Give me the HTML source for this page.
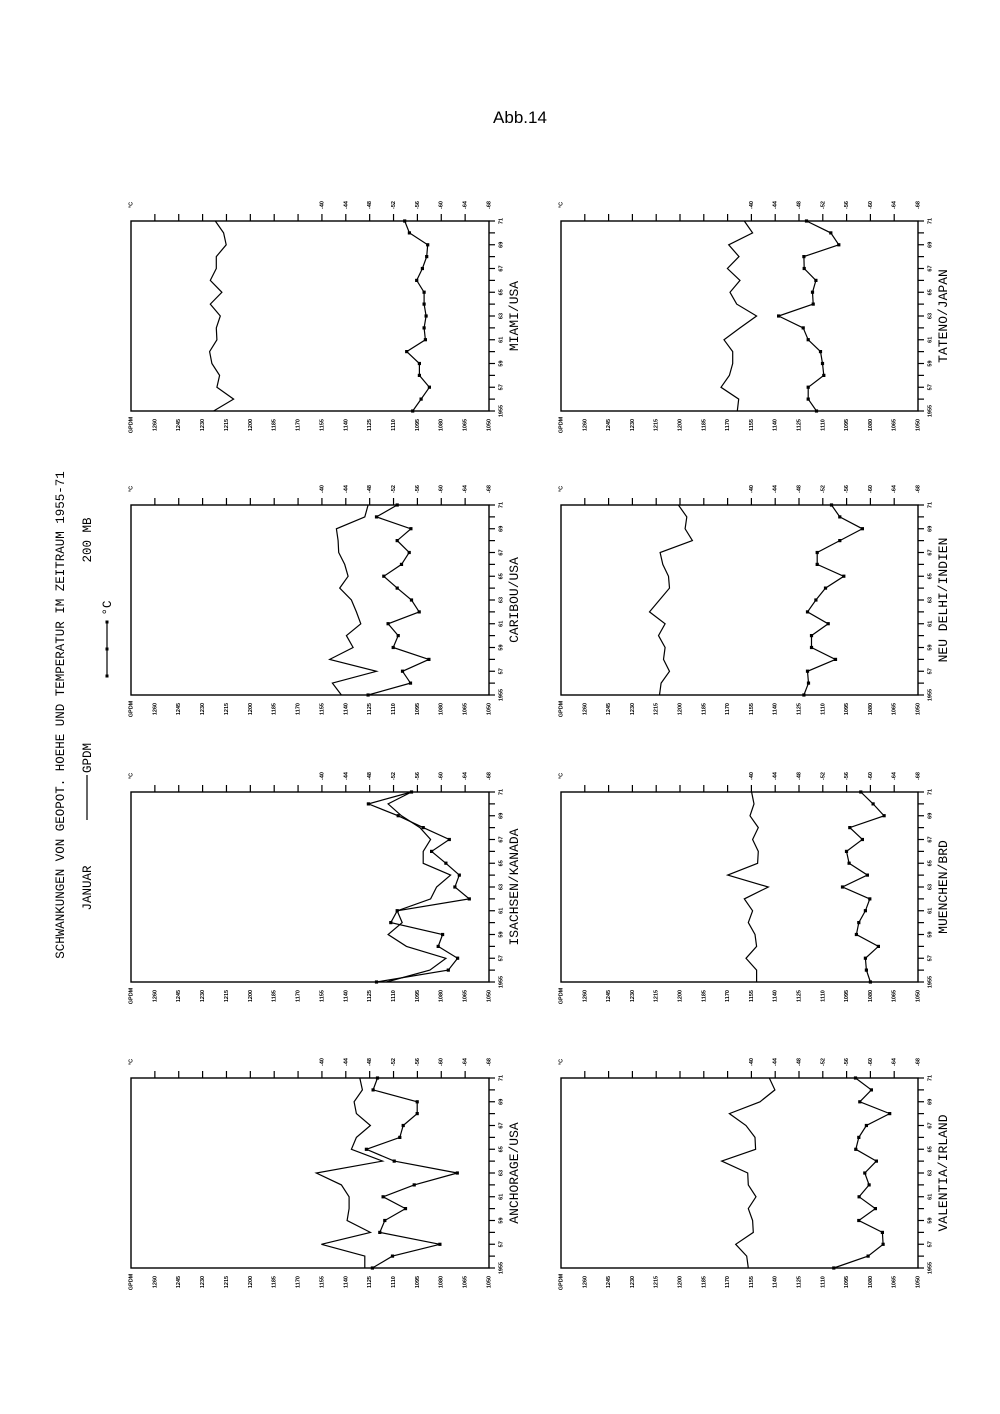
<!DOCTYPE html>
<html><head><meta charset="utf-8"><style>
html,body{margin:0;padding:0;background:#fff;}
svg{display:block;}
text{font-family:"Liberation Sans",sans-serif;fill:#000;}
.m{font-family:"Liberation Mono",monospace;}
</style></head><body>
<svg id="s" width="1000" height="1414" viewBox="0 0 1000 1414" xmlns="http://www.w3.org/2000/svg">
<text x="520" y="123" font-size="17" text-anchor="middle">Abb.14</text>
<g class="m" font-size="12.5">
<text class="m" transform="translate(64,715) rotate(-90)" text-anchor="middle">SCHWANKUNGEN VON GEOPOT. HOEHE UND TEMPERATUR IM ZEITRAUM 1955-71</text>
<text class="m" transform="translate(91,888) rotate(-90)" text-anchor="middle">JANUAR</text>
<text class="m" transform="translate(91,540) rotate(-90)" text-anchor="middle">200 MB</text>
<text class="m" transform="translate(91,758) rotate(-90)" text-anchor="middle">GPDM</text>
<text class="m" transform="translate(111,608) rotate(-90)" text-anchor="middle">°C</text>
</g>
<line x1="87" y1="775" x2="87" y2="820" stroke="#000" stroke-width="1.2"/>
<line x1="107" y1="622" x2="107" y2="676" stroke="#000" stroke-width="1.2"/>
<rect x="105.5" y="620.5" width="3" height="3"/><rect x="105.5" y="647.5" width="3" height="3"/><rect x="105.5" y="674.5" width="3" height="3"/>
<g id="p"></g>
</svg>
<script>
var P=[
{n:"MIAMI/USA",x:131,y:221,w:358,L:62,W:1075,
g:[310,370,320,328,305,298,320,318,330,300,335,300,318,318,348,340,315],
t:[908,933,958,928,928,890,946,942,948,942,942,920,937,950,953,898,884]},
{n:"CARIBOU/USA",x:131,y:505,w:358,L:65,W:1072,
g:[695,668,800,660,730,710,753,740,725,690,715,705,687,685,680,765,775],
t:[775,902,878,957,850,865,835,928,905,862,822,875,898,862,903,800,862]},
{n:"ISACHSEN/KANADA",x:131,y:792,w:358,L:65,W:1072,
g:[830,960,1008,890,835,877,862,962,980,1022,940,940,962,930,875,835,905],
t:[800,1015,1043,985,998,843,862,1078,1035,1048,1008,965,1018,940,865,776,905]},
{n:"ANCHORAGE/USA",x:131,y:1078,w:358,L:65,W:1072,
g:[765,765,635,782,712,718,718,695,620,818,725,740,782,740,733,758,750],
t:[788,848,990,810,825,887,820,913,1042,853,770,870,880,922,922,790,803]},
{n:"TATENO/JAPAN",x:561,y:221,w:357,L:92,W:1073,
g:[622,626,573,598,608,608,582,630,680,620,600,630,592,627,596,668,643],
t:[860,835,835,882,878,872,835,820,746,850,848,858,823,822,927,903,830]},
{n:"NEU DELHI/INDIEN",x:561,y:505,w:357,L:92,W:1073,
g:[388,393,418,400,405,385,405,358,388,418,415,398,390,487,465,470,445],
t:[822,836,833,917,845,845,895,833,858,887,942,862,862,930,998,930,905]},
{n:"MUENCHEN/BRD",x:561,y:792,w:357,L:92,W:1073,
g:[680,680,648,680,675,655,668,643,715,593,683,685,668,685,660,672,665],
t:[1022,1010,1007,1046,980,987,1007,1020,938,1013,958,950,998,960,1063,1030,993]},
{n:"VALENTIA/IRLAND",x:561,y:1078,w:357,L:92,W:1073,
g:[655,650,617,670,668,655,678,655,653,575,677,675,648,598,690,735,718],
t:[912,1015,1060,1058,987,1037,988,1018,1005,1040,978,987,1010,1080,990,1025,977]}
];
var H=190,s="";
function rt(x,y,txt,fs,cls){return '<text '+(cls?'class="'+cls+'" ':'')+'transform="translate('+x+','+y+') rotate(-90)" font-size="'+fs+'" font-weight="bold" text-anchor="middle" dominant-baseline="middle">'+txt+'</text>';}
P.forEach(function(p){
 var x=p.x,y=p.y,w=p.w,r=x+w,b=y+H;
 s+='<rect x="'+x+'" y="'+y+'" width="'+w+'" height="'+H+'" fill="none" stroke="#000" stroke-width="1.4"/>';
 for(var k=0;k<=15;k++){var tx=x+k*w/15;
  if(k>0&&k<15)s+='<line x1="'+tx+'" y1="'+(y-7)+'" x2="'+tx+'" y2="'+y+'" stroke="#000" stroke-width="1.2"/>';
  s+=rt(tx,b+14,k==0?"GPDM":(1260-15*(k-1)),5.5);
  if(k==0)s+=rt(tx,y-16,"°C",5.5);
  if(k>=8)s+=rt(tx,y-16,-40-4*(k-8),5.5);
 }
 for(var i=0;i<17;i++){var ty=b-i*H/16;
  s+='<line x1="'+r+'" y1="'+ty+'" x2="'+(r+6)+'" y2="'+ty+'" stroke="#000" stroke-width="1.2"/>';
  if(i%2==0)s+=rt(r+12,ty,i==0?"1955":(55+i),5.5);
 }
 s+='<text class="m" transform="translate('+(r+29)+','+(y+H/2)+') rotate(-90)" font-size="13" text-anchor="middle">'+p.n+'</text>';
 function pts(a){return a.map(function(v,i){return [x+(v-p.L)/p.W*w, b-i*H/16];});}
 var g=pts(p.g),t=pts(p.t);
 s+='<polyline fill="none" stroke="#000" stroke-width="1.2" points="'+g.map(function(q){return q[0].toFixed(1)+','+q[1].toFixed(1)}).join(' ')+'"/>';
 s+='<polyline fill="none" stroke="#000" stroke-width="1.2" points="'+t.map(function(q){return q[0].toFixed(1)+','+q[1].toFixed(1)}).join(' ')+'"/>';
 t.forEach(function(q){s+='<rect x="'+(q[0]-1.6).toFixed(1)+'" y="'+(q[1]-1.6).toFixed(1)+'" width="3.2" height="3.2"/>';});
});
document.getElementById("p").innerHTML=s;
</script>
</body></html>
